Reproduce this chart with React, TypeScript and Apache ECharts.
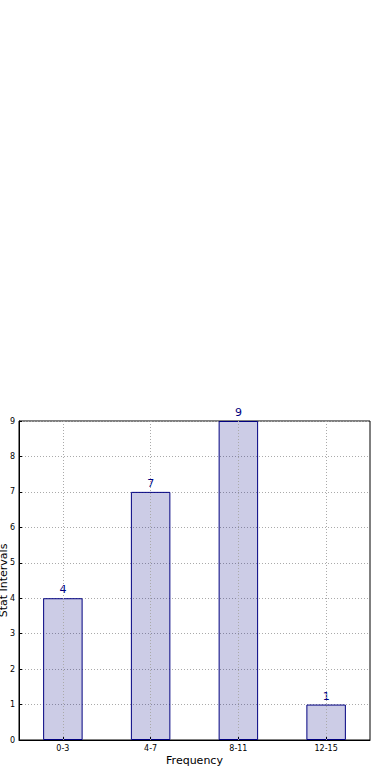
import React, { useEffect, useRef } from "react";
import * as echarts from "echarts";

const categories = ["0-3", "4-7", "8-11", "12-15"];
const values = [4, 7, 9, 1];
const yTicks = { min: 0, max: 9, interval: 1 };

export default function App() {
  const ref = useRef<HTMLDivElement>(null);
  useEffect(() => {
    if (!ref.current) return;
    const chart = echarts.init(ref.current, null, { renderer: "svg" });
    const font = "DejaVu Sans";
    const gridColor = "#aaaaaa";
    chart.setOption({
      animation: false,
      textStyle: { fontFamily: font },
      grid: {
        left: 19,
        right: 20,
        top: 421,
        bottom: 40,
        containLabel: false,
        outerBoundsMode: "none",
        show: true,
        borderColor: "#000",
        borderWidth: 1,
        backgroundColor: "transparent",
      },
      xAxis: {
        type: "category",
        data: categories,
        name: "Frequency",
        nameLocation: "middle",
        nameGap: 15,
        nameMoveOverlap: false,
        nameTextStyle: { fontSize: 11, color: "#000", fontFamily: font },
        axisLine: { lineStyle: { color: "#000", width: 1 } },
        axisTick: { show: true, alignWithLabel: true, inside: true, length: 3, lineStyle: { color: "#000" } },
        axisLabel: { fontSize: 8, color: "#000", margin: 4, fontFamily: font },
        splitLine: { show: false },
      },
      yAxis: {
        type: "value",
        min: yTicks.min,
        max: yTicks.max,
        interval: yTicks.interval,
        name: "Stat Intervals",
        nameLocation: "middle",
        nameGap: 10,
        nameMoveOverlap: false,
        nameTextStyle: { fontSize: 11, color: "#000", fontFamily: font },
        axisLine: { show: true, lineStyle: { color: "#000", width: 1 } },
        axisTick: { show: true, inside: true, length: 3, lineStyle: { color: "#000" } },
        axisLabel: { fontSize: 8, color: "#000", margin: 4, fontFamily: font },
        splitLine: { show: true, lineStyle: { color: gridColor, type: [1, 2], width: 1 } },
      },
      series: [
        {
          type: "bar",
          data: values,
          barWidth: "45%",
          itemStyle: {
            color: "rgba(0,0,128,0.2)",
            borderColor: "#000080",
            borderWidth: 1,
          },
          label: {
            show: true,
            position: "top",
            distance: 3,
            color: "#000080",
            fontSize: 11,
            fontFamily: font,
          },
          markLine: {
            silent: true,
            symbol: "none",
            label: { show: false },
            lineStyle: { color: gridColor, type: [1, 2], width: 1 },
            data: categories.map((c) => ({ xAxis: c })),
          },
        },
      ],
    });
    return () => chart.dispose();
  }, []);
  return (
    <div
      ref={ref}
      style={{ position: "fixed", left: 0, top: 0, width: 390, height: 780, background: "#fff" }}
    />
  );
}
